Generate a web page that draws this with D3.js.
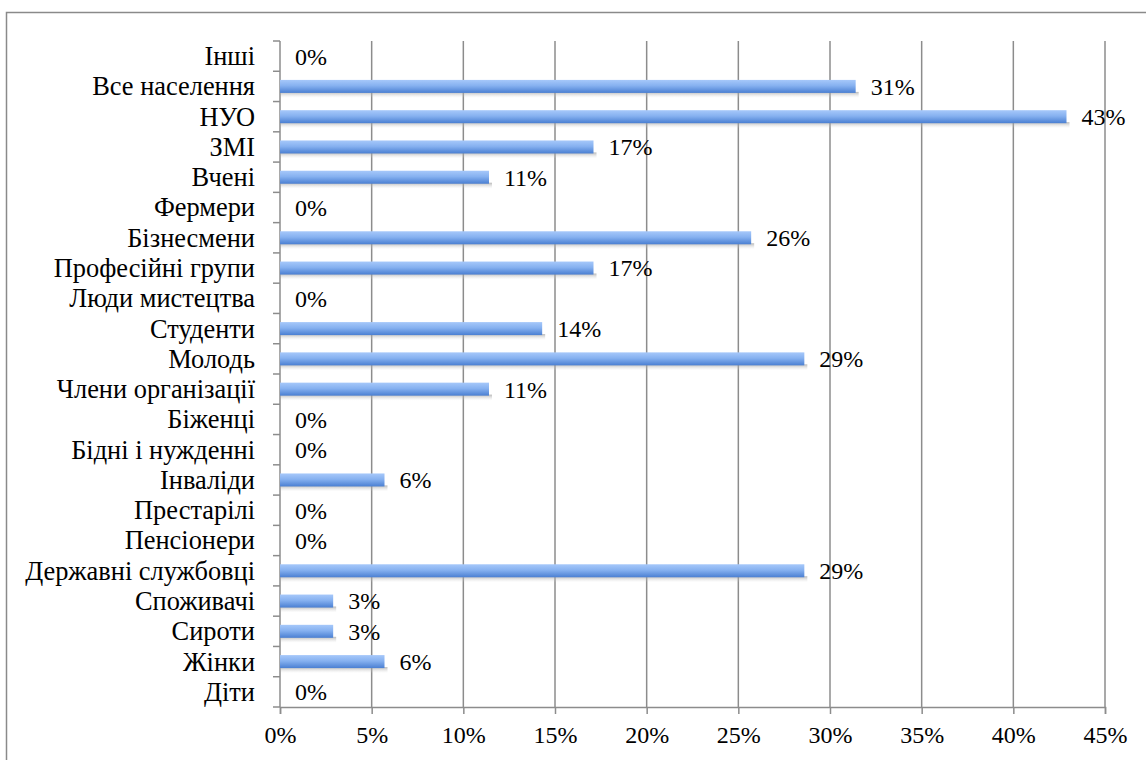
<!DOCTYPE html>
<html>
<head>
<meta charset="utf-8">
<script src="https://cdn.jsdelivr.net/npm/d3@7"></script>
<style>
  body { margin: 0; background: #fff; }
</style>
</head>
<body>
<div id="chart"></div>
<script>
// categories, top to bottom
var categories = ["Інші", "Все населення", "НУО", "ЗМІ", "Вчені", "Фермери", "Бізнесмени",
    "Професійні групи", "Люди мистецтва", "Студенти", "Молодь", "Члени організації",
    "Біженці", "Бідні і нужденні", "Інваліди", "Престарілі", "Пенсіонери",
    "Державні службовці", "Споживачі", "Сироти", "Жінки", "Діти"];
var values = [0, 0.314, 0.429, 0.171, 0.114, 0, 0.257, 0.171, 0, 0.143, 0.286, 0.114,
    0, 0, 0.057, 0, 0, 0.286, 0.029, 0.029, 0.057, 0];
var xTicks = [0, 0.05, 0.10, 0.15, 0.20, 0.25, 0.30, 0.35, 0.40, 0.45];

var data = categories.map(function (c, i) { return { name: c, value: values[i] }; });

var FONT = "'Liberation Serif'";
var W = 1146, H = 760;
var margin = { top: 41, left: 280, right: 41, bottom: 53 };
var width = W - margin.left - margin.right,
    height = H - margin.top - margin.bottom;

var svg = d3.select("#chart").append("svg")
    .attr("width", W).attr("height", H);

// outer frame (runs off the right and bottom edges)
svg.append("rect")
    .attr("x", 6.5).attr("y", 12.5)
    .attr("width", W + 20).attr("height", H + 20)
    .attr("fill", "none").attr("stroke", "#8a8a8a").attr("stroke-width", 1.5);

var defs = svg.append("defs");
var grad = defs.append("linearGradient").attr("id", "barGrad")
    .attr("x1", 0).attr("y1", 0).attr("x2", 0).attr("y2", 1);
grad.append("stop").attr("offset", "0%").attr("stop-color", "#a6c8fa");
grad.append("stop").attr("offset", "45%").attr("stop-color", "#86b1f0");
grad.append("stop").attr("offset", "100%").attr("stop-color", "#4a7fd2");

var shGrad = defs.append("linearGradient").attr("id", "shadowGrad")
    .attr("x1", 0).attr("y1", 0).attr("x2", 0).attr("y2", 1);
shGrad.append("stop").attr("offset", "0%").attr("stop-color", "#999").attr("stop-opacity", 0.7);
shGrad.append("stop").attr("offset", "100%").attr("stop-color", "#ddd").attr("stop-opacity", 0);

var g = svg.append("g")
    .attr("transform", "translate(" + margin.left + "," + margin.top + ")");

var x = d3.scaleLinear().domain([0, 0.45]).range([0, width]);
var y = d3.scaleBand().domain(categories).range([0, height]);

// vertical gridlines
g.selectAll(".grid").data(xTicks.slice(1)).enter().append("line")
    .attr("x1", function (d) { return x(d); })
    .attr("x2", function (d) { return x(d); })
    .attr("y1", 0).attr("y2", height)
    .attr("stroke", "#8c8c8c").attr("stroke-width", 1.5);

// bottom axis
var xAxis = g.append("g")
    .attr("transform", "translate(0," + height + ")")
    .call(d3.axisBottom(x).tickValues(xTicks).tickFormat(d3.format(".0%"))
        .tickSize(7).tickPadding(12));
xAxis.attr("font-family", "Liberation Serif").attr("font-size", 24);
xAxis.select(".domain").attr("stroke", "#8c8c8c").attr("stroke-width", 1.5);
xAxis.selectAll(".tick line").attr("stroke", "#8c8c8c").attr("stroke-width", 1.5);
xAxis.selectAll("text").style("font-size", "24px")
    .style("font-family", FONT).attr("fill", "#000");

// left axis with ticks at band boundaries
g.append("line").attr("x1", 0).attr("x2", 0).attr("y1", 0).attr("y2", height)
    .attr("stroke", "#8c8c8c").attr("stroke-width", 1.5);
g.selectAll(".ytick").data(d3.range(categories.length + 1)).enter().append("line")
    .attr("x1", -7).attr("x2", 0)
    .attr("y1", function (i) { return i * y.step(); })
    .attr("y2", function (i) { return i * y.step(); })
    .attr("stroke", "#8c8c8c").attr("stroke-width", 1.5);

g.selectAll(".cat").data(data).enter().append("text")
    .attr("x", -25)
    .attr("y", function (d) { return y(d.name) + y.bandwidth() / 2; })
    .attr("dy", "0.34em")
    .attr("text-anchor", "end")
    .style("font-family", FONT)
    .style("font-size", "26.4px")
    .text(function (d) { return d.name; });

var barH = 13;
// shadows
g.selectAll(".shadow").data(data.filter(function (d) { return d.value > 0; })).enter().append("rect")
    .attr("x", 1)
    .attr("y", function (d) { return y(d.name) + y.bandwidth() / 2 + barH / 2 - 1; })
    .attr("width", function (d) { return x(d.value) + 2; })
    .attr("height", 6)
    .attr("fill", "url(#shadowGrad)");

g.selectAll(".bar").data(data.filter(function (d) { return d.value > 0; })).enter().append("rect")
    .attr("x", 0)
    .attr("y", function (d) { return y(d.name) + y.bandwidth() / 2 - barH / 2; })
    .attr("width", function (d) { return x(d.value); })
    .attr("height", barH)
    .attr("fill", "url(#barGrad)");

g.selectAll(".val").data(data).enter().append("text")
    .attr("x", function (d) { return x(d.value) + 15; })
    .attr("y", function (d) { return y(d.name) + y.bandwidth() / 2; })
    .attr("dy", "0.35em")
    .style("font-family", FONT)
    .style("font-size", "24px")
    .text(function (d) { return d3.format(".0%")(d.value); });
</script>
</body>
</html>
